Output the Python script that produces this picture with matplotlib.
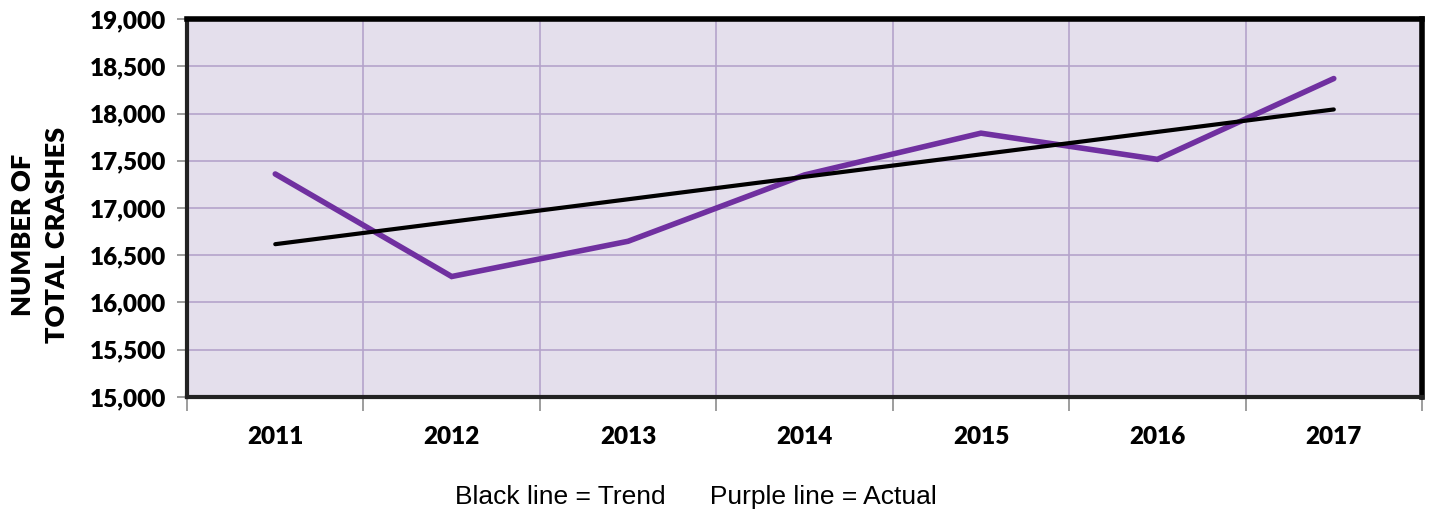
import numpy as np
import matplotlib
matplotlib.use("Agg")
import matplotlib.pyplot as plt
from matplotlib.ticker import FuncFormatter, FixedLocator, NullFormatter

years = ["2011", "2012", "2013", "2014", "2015", "2016", "2017"]
actual = [17360, 16275, 16648, 17350, 17792, 17515, 18370]
y_ticks = [15000, 15500, 16000, 16500, 17000, 17500, 18000, 18500, 19000]

x = np.arange(len(years))
slope, intercept = np.polyfit(x, actual, 1)
trend = slope * x + intercept

fig = plt.figure(figsize=(14.3, 5.18), dpi=100)
ax = fig.add_axes([0.1308, 0.2336, 0.8636, 0.7297])
ax.set_facecolor("#E4DFEC")

ax.plot(x, actual, color="#7030A0", lw=4.0, solid_capstyle="round",
        solid_joinstyle="miter", zorder=3)
ax.plot(x, trend, color="black", lw=3.0, solid_capstyle="round", zorder=4)

ax.set_xlim(-0.5, len(years) - 0.5)
ax.set_ylim(15000, 19000)

# category boundaries carry the grid and ticks; labels sit at centres
ax.xaxis.set_major_locator(FixedLocator(np.arange(-0.5, len(years), 1.0)))
ax.xaxis.set_major_formatter(NullFormatter())
ax.xaxis.set_minor_locator(FixedLocator(x))
ax.set_xticklabels(years, minor=True)
ax.tick_params(axis="x", which="major", length=10, width=1.2, color="#8C8C8C",
               direction="out")
ax.tick_params(axis="x", which="minor", length=0, pad=21)

ax.set_yticks(y_ticks)
ax.yaxis.set_major_formatter(FuncFormatter(lambda v, p: f"{int(v):,}"))
ax.tick_params(axis="y", length=7, width=1.2, color="#8C8C8C", pad=8)

for lab in ax.get_yticklabels() + ax.get_xticklabels(minor=True):
    lab.set_fontfamily("Lato")
    lab.set_fontweight("heavy")
    lab.set_fontsize(17.5)

ax.grid(True, which="major", color="#B4A3CB", lw=1.2, zorder=1)
ax.set_axisbelow(True)

for side in ["top", "right"]:
    ax.spines[side].set_linewidth(4)
    ax.spines[side].set_color("black")
for side in ["left", "bottom"]:
    ax.spines[side].set_linewidth(3)
    ax.spines[side].set_color("#222222")

fig.text(40 / 1430, 1 - 235 / 518, "NUMBER OF\nTOTAL CRASHES", rotation=90,
         ha="center", va="center", multialignment="center",
         fontfamily="Lato", fontweight="heavy", fontsize=19.5, linespacing=1.5)

fig.text(0.4867, 0.04, "Black line = Trend      Purple line = Actual",
         ha="center", va="center", fontfamily="Liberation Sans", fontsize=19)

fig.savefig("out.png", dpi=100)
